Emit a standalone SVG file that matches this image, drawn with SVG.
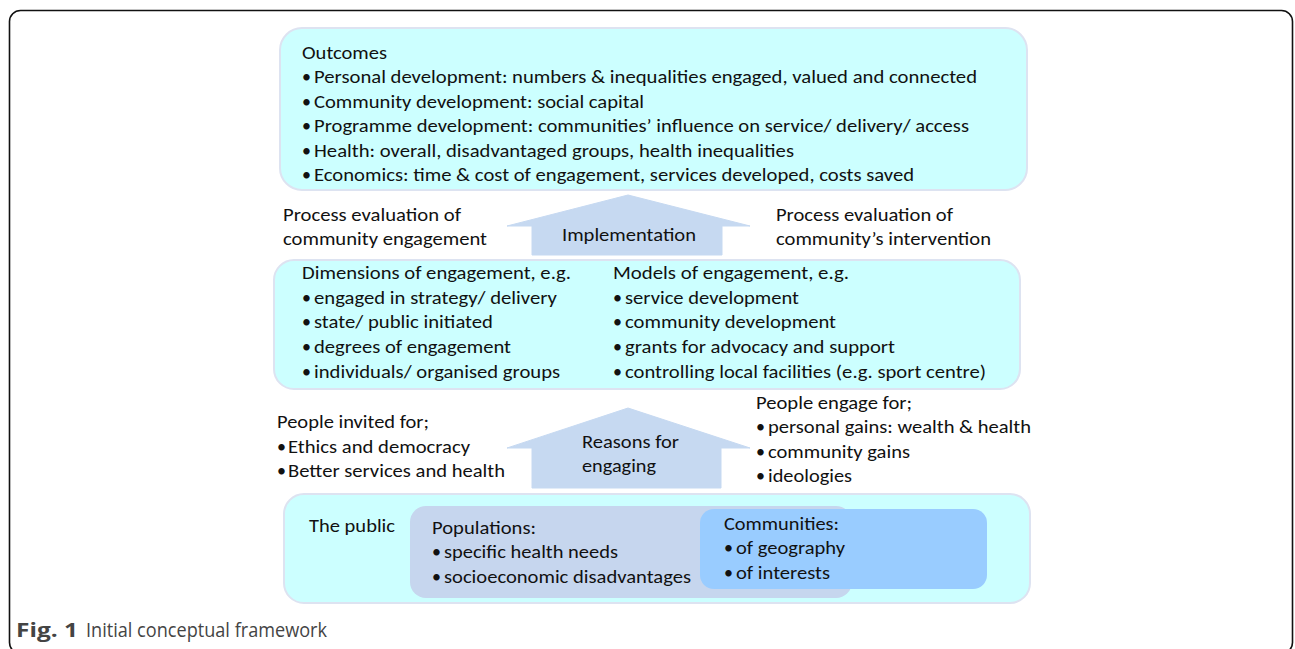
<svg xmlns="http://www.w3.org/2000/svg" width="1295" height="649" viewBox="0 0 1295 649">
<style>
.t{font-family:Carlito,"Liberation Sans",Arial,sans-serif;font-size:18px;fill:#111}
.cap{font-family:"Open Sans","Liberation Sans",sans-serif;font-size:20px;fill:#444}
.box{fill:#ccffff;stroke:#dde3f1;stroke-width:2}
.arr{fill:#c6d9f1;stroke:#c6d9f1;stroke-width:1;stroke-linejoin:round}
</style>
<rect x="9.5" y="10.5" width="1283" height="643" rx="11" fill="#fff" stroke="#111" stroke-width="1.6"/>

<g id="connectors">
<g id="implementation">
<path class="arr" d="M628,195 L750,226 L722,226 L722,255 L532,255 L532,226 L507,226 Z"/>
<text class="t" x="562" y="241" textLength="134" lengthAdjust="spacingAndGlyphs">Implementation</text>
</g>
<g id="reasons">
<path class="arr" d="M628,408 L750,448 L721,448 L721,488 L532,488 L532,448 L507,448 Z"/>
<text class="t" x="582" y="448" textLength="97" lengthAdjust="spacingAndGlyphs">Reasons for</text>
<text class="t" x="582" y="472" textLength="74" lengthAdjust="spacingAndGlyphs">engaging</text>
</g>
</g>

<g id="outcomes">
<rect class="box" x="280" y="28" width="747" height="162" rx="22"/>
<text class="t" x="302" y="59" textLength="85" lengthAdjust="spacingAndGlyphs">Outcomes</text>
<text class="t" x="302" y="83">•</text><text class="t" x="314" y="83" textLength="663" lengthAdjust="spacingAndGlyphs">Personal development: numbers &amp; inequalities engaged, valued and connected</text>
<text class="t" x="302" y="108">•</text><text class="t" x="314" y="108" textLength="330" lengthAdjust="spacingAndGlyphs">Community development: social capital</text>
<text class="t" x="302" y="132">•</text><text class="t" x="314" y="132" textLength="655" lengthAdjust="spacingAndGlyphs">Programme development: communities’ influence on service/ delivery/ access</text>
<text class="t" x="302" y="157">•</text><text class="t" x="314" y="157" textLength="480" lengthAdjust="spacingAndGlyphs">Health: overall, disadvantaged groups, health inequalities</text>
<text class="t" x="302" y="181">•</text><text class="t" x="314" y="181" textLength="600" lengthAdjust="spacingAndGlyphs">Economics: time &amp; cost of engagement, services developed, costs saved</text>
</g>

<g id="process-left">
<text class="t" x="283" y="221" textLength="178" lengthAdjust="spacingAndGlyphs">Process evaluation of</text>
<text class="t" x="283" y="245" textLength="204" lengthAdjust="spacingAndGlyphs">community engagement</text>
</g>
<g id="process-right">
<text class="t" x="776" y="221" textLength="177" lengthAdjust="spacingAndGlyphs">Process evaluation of</text>
<text class="t" x="776" y="245" textLength="215" lengthAdjust="spacingAndGlyphs">community’s intervention</text>
</g>

<g id="engagement">
<rect class="box" x="274" y="260" width="746" height="129" rx="20"/>
<text class="t" x="302" y="279" textLength="269" lengthAdjust="spacingAndGlyphs">Dimensions of engagement, e.g.</text>
<text class="t" x="302" y="304">•</text><text class="t" x="314" y="304" textLength="243" lengthAdjust="spacingAndGlyphs">engaged in strategy/ delivery</text>
<text class="t" x="302" y="328">•</text><text class="t" x="314" y="328" textLength="179" lengthAdjust="spacingAndGlyphs">state/ public initiated</text>
<text class="t" x="302" y="353">•</text><text class="t" x="314" y="353" textLength="197" lengthAdjust="spacingAndGlyphs">degrees of engagement</text>
<text class="t" x="302" y="378">•</text><text class="t" x="314" y="378" textLength="246" lengthAdjust="spacingAndGlyphs">individuals/ organised groups</text>
<text class="t" x="613" y="279" textLength="236" lengthAdjust="spacingAndGlyphs">Models of engagement, e.g.</text>
<text class="t" x="613" y="304">•</text><text class="t" x="625" y="304" textLength="174" lengthAdjust="spacingAndGlyphs">service development</text>
<text class="t" x="613" y="328">•</text><text class="t" x="625" y="328" textLength="211" lengthAdjust="spacingAndGlyphs">community development</text>
<text class="t" x="613" y="353">•</text><text class="t" x="625" y="353" textLength="270" lengthAdjust="spacingAndGlyphs">grants for advocacy and support</text>
<text class="t" x="613" y="378">•</text><text class="t" x="625" y="378" textLength="361" lengthAdjust="spacingAndGlyphs">controlling local facilities (e.g. sport centre)</text>
</g>

<g id="invited">
<text class="t" x="277" y="428" textLength="152" lengthAdjust="spacingAndGlyphs">People invited for;</text>
<text class="t" x="277" y="453">•</text><text class="t" x="288" y="453" textLength="182" lengthAdjust="spacingAndGlyphs">Ethics and democracy</text>
<text class="t" x="277" y="477">•</text><text class="t" x="288" y="477" textLength="217" lengthAdjust="spacingAndGlyphs">Better services and health</text>
</g>
<g id="engage-for">
<text class="t" x="756" y="409" textLength="156" lengthAdjust="spacingAndGlyphs">People engage for;</text>
<text class="t" x="756" y="433">•</text><text class="t" x="768" y="433" textLength="263" lengthAdjust="spacingAndGlyphs">personal gains: wealth &amp; health</text>
<text class="t" x="756" y="458">•</text><text class="t" x="768" y="458" textLength="142" lengthAdjust="spacingAndGlyphs">community gains</text>
<text class="t" x="756" y="482">•</text><text class="t" x="768" y="482" textLength="84" lengthAdjust="spacingAndGlyphs">ideologies</text>
</g>

<g id="public">
<rect class="box" x="284" y="494" width="746" height="109" rx="20"/>
<text class="t" x="309" y="532" textLength="86" lengthAdjust="spacingAndGlyphs">The public</text>
</g>
<g id="populations">
<rect x="410" y="506" width="442" height="92" rx="16" fill="#c6d6ee"/>
<text class="t" x="432" y="534" textLength="104" lengthAdjust="spacingAndGlyphs">Populations:</text>
<text class="t" x="432" y="558">•</text><text class="t" x="444" y="558" textLength="174" lengthAdjust="spacingAndGlyphs">specific health needs</text>
<text class="t" x="432" y="583">•</text><text class="t" x="444" y="583" textLength="247" lengthAdjust="spacingAndGlyphs">socioeconomic disadvantages</text>
</g>
<g id="communities">
<rect x="700" y="509" width="287" height="80" rx="14" fill="#99ccff"/>
<text class="t" x="724" y="530" textLength="115" lengthAdjust="spacingAndGlyphs">Communities:</text>
<text class="t" x="724" y="554">•</text><text class="t" x="736" y="554" textLength="109" lengthAdjust="spacingAndGlyphs">of geography</text>
<text class="t" x="724" y="579">•</text><text class="t" x="736" y="579" textLength="94" lengthAdjust="spacingAndGlyphs">of interests</text>
</g>

<g id="caption">
<text class="cap" x="16" y="637" font-weight="bold" fill="#222" textLength="62" lengthAdjust="spacingAndGlyphs">Fig. 1</text>
<text class="cap" x="86" y="637" textLength="241" lengthAdjust="spacingAndGlyphs">Initial conceptual framework</text>
</g>
</svg>
